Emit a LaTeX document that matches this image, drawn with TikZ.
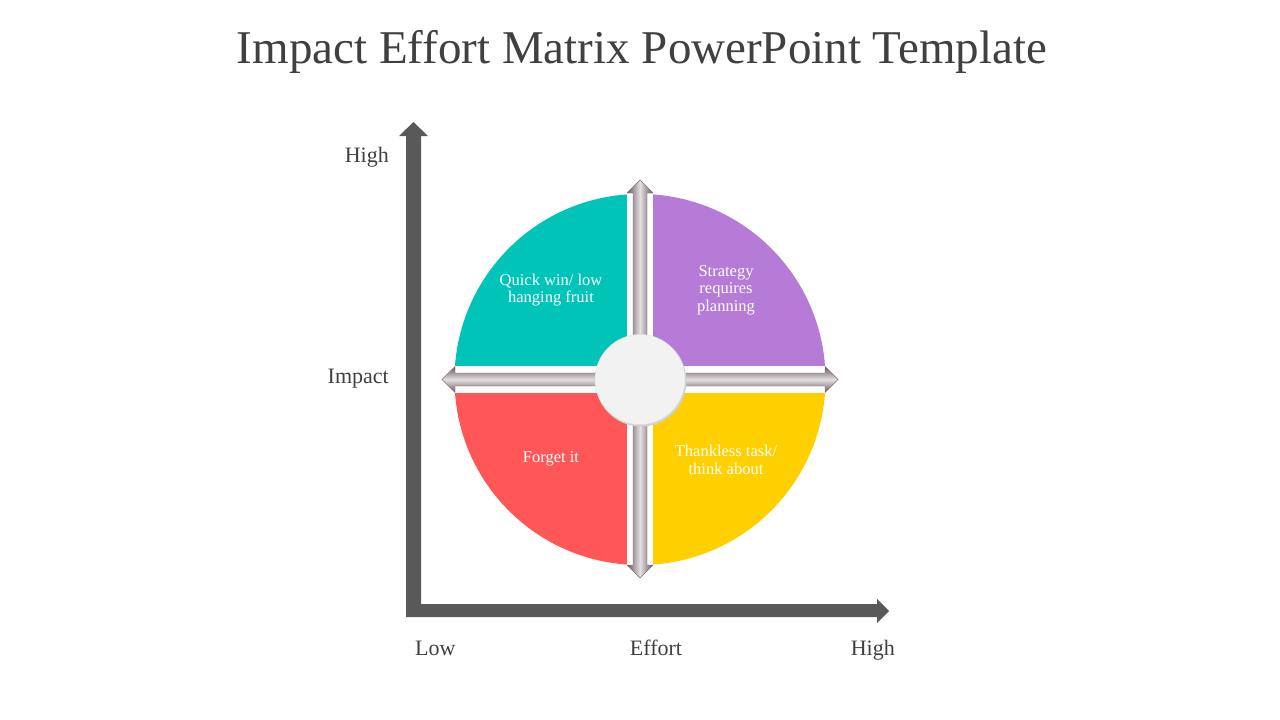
\documentclass[tikz,border=0pt]{standalone}
\usepackage{fontspec}
\setmainfont{Liberation Serif}
\usepackage{xcolor}
\definecolor{axisgray}{HTML}{595959}
\definecolor{txtgray}{HTML}{404040}
\definecolor{qteal}{HTML}{00C4B8}
\definecolor{qpurple}{HTML}{B57BD6}
\definecolor{qred}{HTML}{FF5757}
\definecolor{qyellow}{HTML}{FFD000}
\definecolor{arrowdark}{HTML}{6A5460}
\definecolor{arrowlight}{HTML}{E4E0E1}
\definecolor{hubgray}{HTML}{F2F2F2}

\begin{document}
\begin{tikzpicture}[x=1pt,y=-1pt,
        axislabel/.style={text=txtgray,font=\fontsize{22}{26}\selectfont,inner sep=0pt},
        quadtext/.style={text=white,align=center,font=\fontsize{16.5}{17.5}\selectfont,inner sep=0pt},
        metalv/.style={left color=arrowdark,right color=arrowdark,middle color=arrowlight,draw=arrowdark!85,line width=0.4pt},
        metalh/.style={top color=arrowdark,bottom color=arrowdark,middle color=arrowlight,draw=arrowdark!85,line width=0.4pt}]
        \useasboundingbox[fill=white] (0,0) rectangle (1280,720);
        \node[text=txtgray,font=\fontsize{47}{50}\selectfont,anchor=base] (title) at (642,63) {Impact Effort Matrix PowerPoint Template};
        % axes
        \fill[axisgray] (406,617)--(406,136)--(399,136)--(413.5,122)--(428,136)--(421,136)--(421,604)
            --(877,604)--(877,599)--(889,611)--(877,623)--(877,617)--cycle;
        \node[axislabel,anchor=base east] (imphigh) at (389,162) {High};
        \node[axislabel,anchor=base east] (impact) at (389,383) {Impact};
        \node[axislabel,anchor=base west] (low) at (415,655) {Low};
        \node[axislabel,anchor=base] (effort) at (656,655) {Effort};
        \node[axislabel,anchor=base east] (effhigh) at (895,655) {High};
        % quadrants
        \coordinate (ctr) at (640,379.5);
        \begin{scope}
            \clip (ctr) circle (185.5);
            \fill[qteal] (440,180) rectangle (627,366);
            \fill[qpurple] (653,180) rectangle (840,366);
            \fill[qred] (440,393) rectangle (627,580);
            \fill[qyellow] (653,393) rectangle (840,580);
        \end{scope}
        \node[quadtext] (quick) at (551,290) {Quick win/ low\\hanging fruit};
        \node[quadtext] (strategy) at (726,290) {Strategy\\requires\\planning};
        \node[quadtext] (forget) at (551,459) {Forget it};
        \node[quadtext] (thankless) at (726,460) {Thankless task/\\think about};
        % double arrows
        \shadedraw[metalv] (640,180)--(653,193)--(647,193)--(647,565)--(653,565)--(640,578)
            --(627,565)--(633,565)--(633,193)--(627,193)--cycle;
        \shadedraw[metalh] (442,379.5)--(455,366.5)--(455,373)--(825,373)--(825,366.5)--(838,379.5)
            --(825,392.5)--(825,386)--(455,386)--(455,392.5)--cycle;
        \fill[black!18] (641,381) circle (45.5);
        \node[circle,minimum size=90pt,inner sep=0pt,fill=hubgray,draw=black!12] (hub) at (ctr) {};
    \end{tikzpicture}
\end{document}
